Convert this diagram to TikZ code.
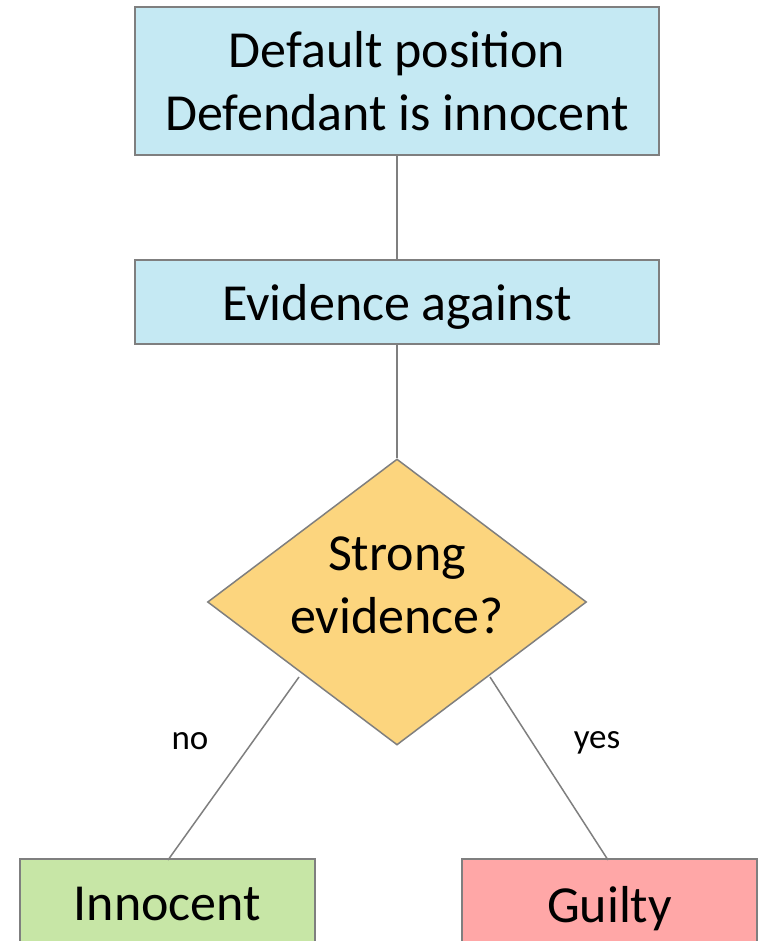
\documentclass[tikz,border=0pt]{standalone}
\usepackage{fontspec}
\setmainfont{Carlito}
\usetikzlibrary{shapes.geometric}
\definecolor{boxblue}{HTML}{C5E9F3}
\definecolor{decyellow}{HTML}{FCD57E}
\definecolor{innogreen}{HTML}{C7E6A6}
\definecolor{guiltred}{HTML}{FFA7A7}
\definecolor{edgegray}{HTML}{7F7F7F}
\begin{document}
\begin{tikzpicture}[x=1pt,y=-1pt,
  bigtext/.style={font=\fontsize{52}{63}\selectfont},
  box/.style={draw=edgegray, line width=1.5pt, rectangle, inner sep=0pt, align=center, bigtext},
  decbox/.style={diamond, draw=edgegray, fill=decyellow, line width=1.5pt, inner sep=0pt},
  conn/.style={draw=edgegray, line width=1.5pt},
  edgelabel/.style={font=\fontsize{35}{42}\selectfont, inner sep=0pt}]
\useasboundingbox (0,0) rectangle (761,941);
\clip (0,0) rectangle (761,941);
\node[box, fill=boxblue, minimum width=524pt, minimum height=148pt] (def) at (397,81) {Default position\\Defendant is innocent};
\node[box, fill=boxblue, minimum width=524pt, minimum height=84pt, text depth=0pt] (evi) at (397,302) {Evidence against};
\node[decbox, minimum width=379pt, minimum height=286pt] (dec) at (397,602) {};
\node[bigtext, align=center, inner sep=0pt] (dectext) at (397,585) {Strong\\evidence?};
\node[box, fill=innogreen, minimum width=295pt, minimum height=90pt] (inn) at (167.5,904) {Innocent};
\node[box, fill=guiltred, minimum width=295pt, minimum height=90pt, text depth=0pt] (gui) at (609.5,904) {Guilty};
\coordinate (nostart) at (299,677);
\coordinate (yesstart) at (490,677);
\coordinate (innend) at (168,860);
\coordinate (guiend) at (608,860);
\draw[conn] (def.south) -- (evi.north);
\draw[conn] (evi.south) -- (dec.north);
\draw[conn] (nostart) -- (innend);
\draw[conn] (yesstart) -- (guiend);
\node[edgelabel] (nolabel) at (190,741) {no};
\node[edgelabel] (yeslabel) at (597,743) {yes};
\end{tikzpicture}
\end{document}
